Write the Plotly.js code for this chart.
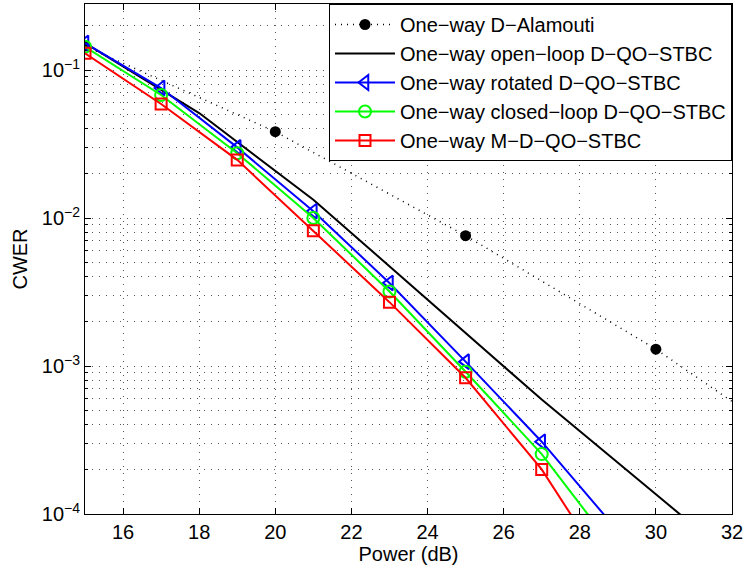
<!DOCTYPE html>
<html>
<head>
<meta charset="utf-8">
<script src="https://cdn.plot.ly/plotly-3.0.1.min.js"></script>
<style>html,body{margin:0;padding:0;background:#fff;}#chart{width:743px;height:572px;}</style>
</head>
<body>
<div id="chart"></div>
<script>
const powerAlamouti = [15, 20, 25, 30, 35];
const cwerAlamouti = [0.145, 0.0383, 0.0076, 0.0013, 0.00017];
const powerOpen = [15, 18, 21, 24, 27, 30, 33];
const cwerOpen = [0.152, 0.0512, 0.0133, 0.00281, 0.000593, 0.000136, 0.000031];
const powerMarked = [15, 17, 19, 21, 23, 25, 27, 29];
const cwerRotated = [0.152, 0.0755, 0.0300, 0.0111, 0.00364, 0.00107, 0.000308, 0.000077];
const cwerClosed = [0.1436, 0.0678, 0.0274, 0.0100, 0.00319, 0.000915, 0.000254, 0.000054];
const cwerMDQO = [0.1297, 0.0589, 0.0247, 0.0082, 0.0027, 0.000833, 0.000200, 0.000032];
const seriesNames = ["One−way D−Alamouti", "One−way open−loop D−QO−STBC", "One−way rotated D−QO−STBC", "One−way closed−loop D−QO−STBC", "One−way M−D−QO−STBC"];
const xTicks = [16, 18, 20, 22, 24, 26, 28, 30, 32];
const yTickVals = [1e-4, 1e-3, 1e-2, 1e-1];
const yTickText = ["10<sup>−4</sup>", "10<sup>−3</sup>", "10<sup>−2</sup>", "10<sup>−1</sup>"];

const yMinor = [];
[1e-4, 1e-3, 1e-2, 1e-1].forEach(d => { for (let k = 2; k <= 9; k++) yMinor.push(k * d); });

const traces = [
  {x: powerAlamouti, y: cwerAlamouti, name: seriesNames[0], mode: "lines+markers",
   line: {color: "#000", width: 1.5, dash: "1px,5px"}, marker: {symbol: "circle", size: 11, color: "#000"}},
  {x: powerOpen, y: cwerOpen, name: seriesNames[1], mode: "lines",
   line: {color: "#000", width: 2}},
  {x: powerMarked, y: cwerRotated, name: seriesNames[2], mode: "lines+markers",
   line: {color: "#0000ff", width: 2}, marker: {symbol: "triangle-left-open", size: 13, color: "#0000ff", line: {width: 2}}},
  {x: powerMarked, y: cwerClosed, name: seriesNames[3], mode: "lines+markers",
   line: {color: "#00ff00", width: 2}, marker: {symbol: "circle-open", size: 12, color: "#00ff00", line: {width: 2}}},
  {x: powerMarked, y: cwerMDQO, name: seriesNames[4], mode: "lines+markers",
   line: {color: "#ff0000", width: 2}, marker: {symbol: "square-open", size: 11, color: "#ff0000", line: {width: 2}}}
];

const layout = {
  width: 743, height: 572,
  margin: {l: 85, r: 11, t: 4, b: 58},
  paper_bgcolor: "#fff", plot_bgcolor: "#fff",
  font: {family: "Liberation Sans, Arial, sans-serif", size: 19, color: "#000"},
  showlegend: true,
  legend: {x: 1, xanchor: "right", y: 1, yanchor: "top", bgcolor: "#fff", bordercolor: "#000", borderwidth: 1,
           font: {size: 20}, tracegroupgap: 0, itemwidth: 60},
  xaxis: {range: [15, 32], tickvals: xTicks, ticks: "inside", ticklen: 6, tickcolor: "#000",
          showline: true, linecolor: "#000", linewidth: 1, mirror: "ticks",
          showgrid: true, gridcolor: "#555", griddash: "1px,6px", gridwidth: 1, zeroline: false,
          tickfont: {size: 20}, ticklabeloverflow: "allow",
          title: {text: "Power (dB)", font: {size: 20}, standoff: 4}},
  yaxis: {type: "log", range: [-4, -0.554], tickvals: yTickVals, ticktext: yTickText, ticks: "inside", ticklen: 6, tickcolor: "#000",
          showline: true, linecolor: "#000", linewidth: 1, mirror: "ticks",
          showgrid: true, gridcolor: "#555", griddash: "1px,6px", gridwidth: 1, zeroline: false,
          tickfont: {size: 20},
          minor: {tickvals: yMinor, ticks: "inside", ticklen: 3, tickcolor: "#000", showgrid: true, gridcolor: "#555", griddash: "1px,6px", gridwidth: 1},
          title: {text: "CWER", font: {size: 20}, standoff: 8}}
};

Plotly.newPlot("chart", traces, layout, {displayModeBar: false, staticPlot: true});
</script>
</body>
</html>
